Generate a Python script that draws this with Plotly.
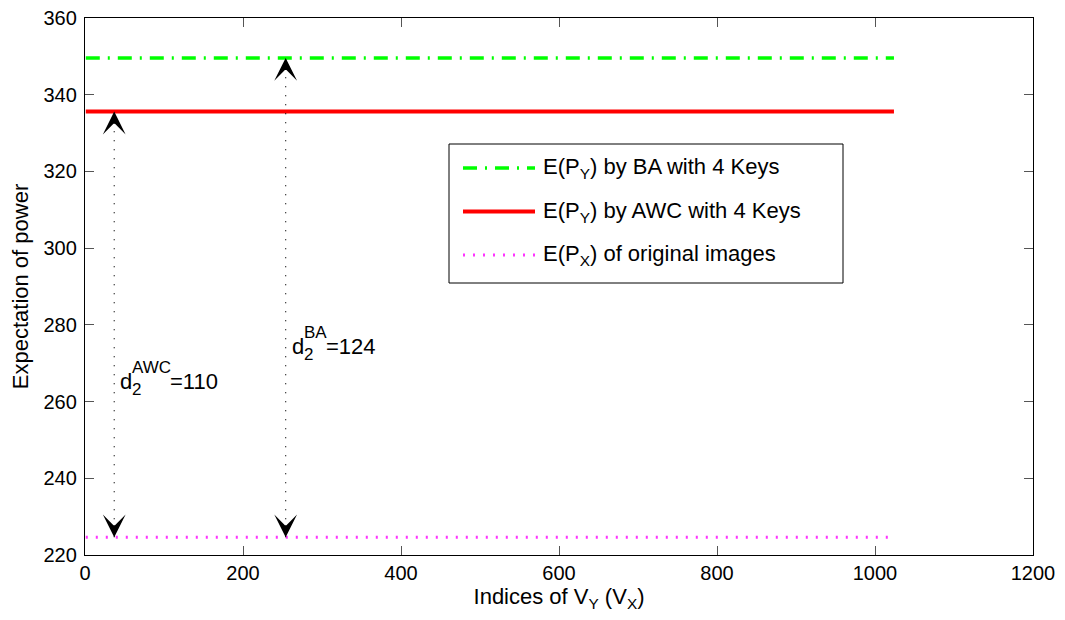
import plotly.graph_objects as go

# ---- data ----
x_span = [1, 1024]
ba_value = 349.6
awc_value = 335.6
orig_value = 224.6
awc_arrow_x = 37
ba_arrow_x = 254
awc_sup, awc_value_text = "AWC", "=110"
ba_sup, ba_value_text = "BA", "=124"
x_ticks = [0, 200, 400, 600, 800, 1000, 1200]
y_ticks = [220, 240, 260, 280, 300, 320, 340, 360]
legend_names = ["E(P<sub>Y</sub>) by BA with 4 Keys",
                "E(P<sub>Y</sub>) by AWC with 4 Keys",
                "E(P<sub>X</sub>) of original images"]

FONT = "Liberation Sans, Arial, sans-serif"
TICK_FS = 20
TITLE_FS = 22
LAB_FS = 22
SMALL_FS = 17
green = "#00ff00"
red = "#ff0000"
magenta = "#ff33ff"
green_dash = "14px,8px,2px,8px"
mag_dash = "2px,8px"

fig = go.Figure()
fig.add_trace(go.Scatter(x=x_span, y=[ba_value, ba_value], mode="lines",
                         line=dict(color=green, width=3.5, dash=green_dash), showlegend=False))
fig.add_trace(go.Scatter(x=x_span, y=[awc_value, awc_value], mode="lines",
                         line=dict(color=red, width=4), showlegend=False))
fig.add_trace(go.Scatter(x=x_span, y=[orig_value, orig_value], mode="lines",
                         line=dict(color=magenta, width=3, dash=mag_dash), showlegend=False))
# dotted double-arrow shafts
for ax_x, top in [(awc_arrow_x, awc_value), (ba_arrow_x, ba_value)]:
    fig.add_trace(go.Scatter(x=[ax_x, ax_x], y=[orig_value, top], mode="lines",
                             line=dict(color="black", width=1.2, dash="1px,8px"), showlegend=False))

annotations = []
for ax_x, top in [(awc_arrow_x, awc_value), (ba_arrow_x, ba_value)]:
    annotations.append(dict(x=ax_x, y=top, xref="x", yref="y", ax=0, ay=13, text="",
                            showarrow=True, arrowhead=3, arrowsize=3.8, arrowwidth=1,
                            arrowcolor="black"))
    annotations.append(dict(x=ax_x, y=orig_value, xref="x", yref="y", ax=0, ay=-13, text="",
                            showarrow=True, arrowhead=3, arrowsize=3.8, arrowwidth=1,
                            arrowcolor="black"))

# labels d_2^{...}=value, built from pieces so sub/superscripts stack like the original
def add_label(ax_x, y_data, sup, rest, rest_dx):
    font_big = dict(family=FONT, size=LAB_FS, color="black")
    font_small = dict(family=FONT, size=SMALL_FS, color="black")
    base = dict(x=ax_x, y=y_data, xref="x", yref="y", showarrow=False,
                xanchor="left", yanchor="middle")
    annotations.append(dict(base, text="d", xshift=4, font=font_big))
    annotations.append(dict(base, text=sup, xshift=16, yshift=14, font=font_small))
    annotations.append(dict(base, text="2", xshift=16, yshift=-8.5, font=font_small))
    annotations.append(dict(base, text=rest, xshift=4 + rest_dx, font=font_big))

add_label(awc_arrow_x, 265.3, awc_sup, awc_value_text, 50)
add_label(ba_arrow_x, 274.4, ba_sup, ba_value_text, 34)

# page body has an 8px margin; compensate so the plot sits where the original does
OFF = 8
FIG_W, FIG_H = 1065 - OFF, 620 - OFF
L, R, B, T = 85, 1033, 555, 18       # plot area in page pixels
W, H = R - L, B - T
def px(xp):
    return (xp - L) / W
def py(yp):
    return (B - yp) / H

shapes = [dict(type="rect", xref="paper", yref="paper", x0=px(449), x1=px(843), y0=py(283), y1=py(144),
               line=dict(color="black", width=1), fillcolor="white", layer="above")]
rows = [168, 211.5, 255]
styles = [dict(color=green, width=3.5, dash=green_dash),
          dict(color=red, width=4),
          dict(color=magenta, width=3, dash=mag_dash)]
for yr, st, name in zip(rows, styles, legend_names):
    shapes.append(dict(type="line", xref="paper", yref="paper", x0=px(463), x1=px(535),
                       y0=py(yr), y1=py(yr), line=st, layer="above"))
    annotations.append(dict(x=px(541), y=py(yr), xref="paper", yref="paper", text=name,
                            showarrow=False, xanchor="left", yanchor="middle",
                            font=dict(family=FONT, size=LAB_FS, color="black")))

axis_common = dict(showline=True, linecolor="black", linewidth=1.3, mirror="ticks",
                   ticks="inside", ticklen=9, tickcolor="#555555", showgrid=False,
                   zeroline=False, automargin=False, ticklabeloverflow="allow",
                   tickfont=dict(family=FONT, size=TICK_FS, color="black"))

fig.update_layout(
    width=FIG_W, height=FIG_H,
    margin=dict(l=L - OFF, r=1065 - R, t=T - OFF, b=620 - B),
    paper_bgcolor="white", plot_bgcolor="white",
    xaxis=dict(range=[0, 1200], tickvals=x_ticks, ticktext=[str(v) for v in x_ticks],
               title=dict(text="Indices of V<sub>Y</sub> (V<sub>X</sub>)", standoff=2,
                          font=dict(family=FONT, size=TITLE_FS, color="black")), **axis_common),
    yaxis=dict(range=[220, 360], tickvals=y_ticks, ticktext=[str(v) for v in y_ticks],
               ticklabelstandoff=3,
               title=dict(text="Expectation of power", standoff=10,
                          font=dict(family=FONT, size=TITLE_FS, color="black")), **axis_common),
    annotations=annotations,
    shapes=shapes,
    showlegend=False,
)

fig.write_html("out.html")
